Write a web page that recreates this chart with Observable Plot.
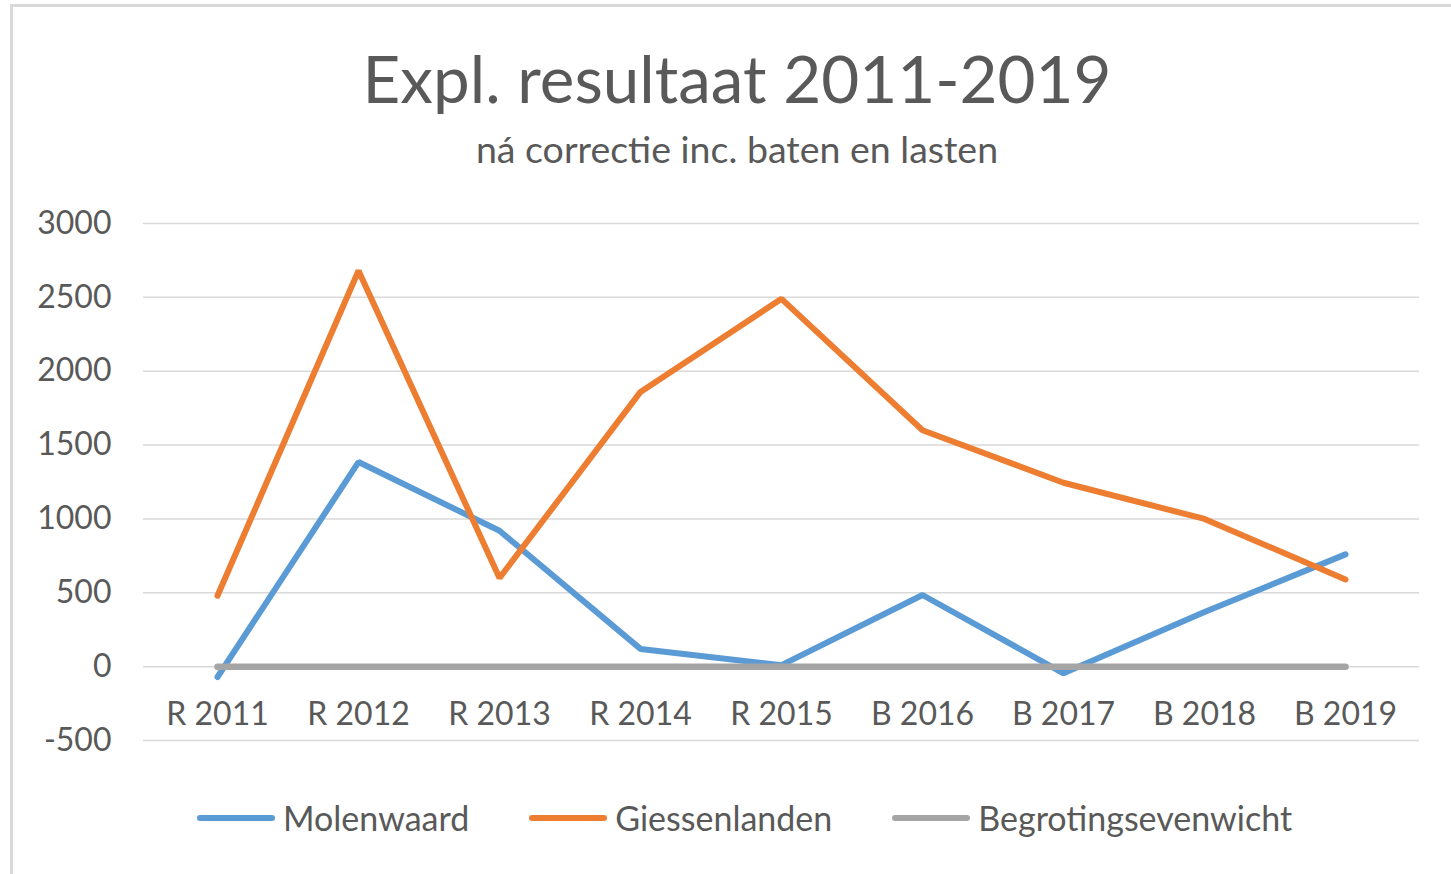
<!DOCTYPE html>
<html>
<head>
<meta charset="utf-8">
<script src="https://cdn.jsdelivr.net/npm/d3@7"></script>
<script src="https://cdn.jsdelivr.net/npm/@observablehq/plot@0.6"></script>
<style>
  html, body { margin: 0; padding: 0; background: #fff; overflow: hidden; }
  body { width: 1451px; height: 874px; position: relative; font-family: Lato, "Open Sans", sans-serif; color: #595959; }
  #frame { position: absolute; left: 10px; top: 4px; width: 1500px; height: 1000px; border-top: 3px solid #D9D9D9; border-left: 3px solid #D9D9D9; }
  #title { position: absolute; left: 10px; width: 1454px; top: 38px; text-align: center; font-size: 65.5px; line-height: 80px; }
  #subtitle { position: absolute; left: 10px; width: 1454px; top: 127px; text-align: center; font-size: 37.5px; line-height: 44px; }
  #chart { position: absolute; left: 0; top: 190px; }
  #legend { position: absolute; left: 197px; top: 798px; display: flex; align-items: center; font-size: 34px; line-height: 40px; }
  .item { display: flex; align-items: center; margin-right: 60px; }
  .sw { width: 78px; height: 6px; border-radius: 3px; margin-right: 8px; }
</style>
</head>
<body>
<div id="frame"></div>
<div id="title">Expl. resultaat 2011-2019</div>
<div id="subtitle">ná correctie inc. baten en lasten</div>
<div id="chart"></div>
<div id="legend"></div>
<script>
const categories = ["R 2011", "R 2012", "R 2013", "R 2014", "R 2015", "B 2016", "B 2017", "B 2018", "B 2019"];
const molenwaard = [-70, 1385, 920, 120, 10, 485, -45, 370, 760];
const giessenlanden = [480, 2680, 600, 1860, 2490, 1600, 1245, 1000, 590];
const begrotingsevenwicht = [0, 0, 0, 0, 0, 0, 0, 0, 0];
const seriesNames = ["Molenwaard", "Giessenlanden", "Begrotingsevenwicht"];
const seriesColors = ["#5B9BD5", "#ED7D31", "#A5A5A5"];
const yTicks = [-500, 0, 500, 1000, 1500, 2000, 2500, 3000];

const allValues = [molenwaard, giessenlanden, begrotingsevenwicht];
const rows = [];
allValues.forEach((vals, s) => vals.forEach((v, i) => rows.push({series: seriesNames[s], cat: categories[i], value: v})));

const chart = Plot.plot({
  width: 1451,
  height: 580,
  marginLeft: 143,
  marginRight: 32,
  marginTop: 33,
  marginBottom: 30,
  style: {fontFamily: "Lato, 'Open Sans', sans-serif", fontSize: "32px", color: "#595959", background: "transparent"},
  x: {type: "point", domain: categories, padding: 0.5, axis: null},
  y: {domain: [-500, 3000], axis: null},
  color: {domain: seriesNames, range: seriesColors},
  marks: [
    Plot.gridY(yTicks, {stroke: "#D9D9D9", strokeOpacity: 1, strokeWidth: 1.5}),
    Plot.axisY(yTicks, {tickSize: 0, tickPadding: 32, fill: "#595959", fontSize: 32, label: null, tickFormat: d => String(d)}),
    Plot.text(categories, {x: d => d, y: () => 0, dy: 48, fill: "#595959", fontSize: 32}),
    Plot.line(rows.filter(d => d.series === "Molenwaard"), {x: "cat", y: "value", stroke: "series", strokeWidth: 6, strokeLinecap: "round", strokeLinejoin: "miter"}),
    Plot.line(rows.filter(d => d.series === "Giessenlanden"), {x: "cat", y: "value", stroke: "series", strokeWidth: 6, strokeLinecap: "round", strokeLinejoin: "miter"}),
    Plot.line(rows.filter(d => d.series === "Begrotingsevenwicht"), {x: "cat", y: "value", stroke: "series", strokeWidth: 6.5, strokeLinecap: "round"})
  ]
});
document.getElementById("chart").appendChild(chart);

const legend = document.getElementById("legend");
seriesNames.forEach((name, i) => {
  const item = document.createElement("div");
  item.className = "item";
  const sw = document.createElement("div");
  sw.className = "sw";
  sw.style.background = seriesColors[i];
  const label = document.createElement("span");
  label.textContent = name;
  item.appendChild(sw);
  item.appendChild(label);
  legend.appendChild(item);
});
</script>
</body>
</html>
